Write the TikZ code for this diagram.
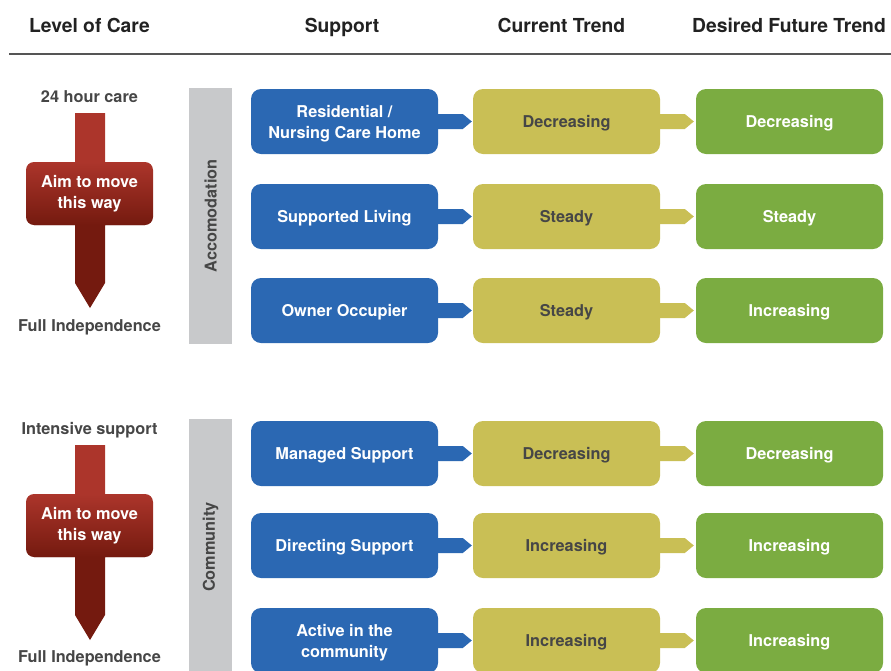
\documentclass[tikz,border=0pt]{standalone}
\usepackage{fontspec}
\setmainfont{TeX Gyre Heros}
\usetikzlibrary{calc}
\definecolor{cblue}{HTML}{2B68B3}
\definecolor{cyellow}{HTML}{C9BF55}
\definecolor{cgreen}{HTML}{7BAC41}
\definecolor{cbar}{HTML}{C8C9CB}
\definecolor{redtop}{HTML}{AC352B}
\definecolor{redbot}{HTML}{741A0F}
\definecolor{txtgray}{HTML}{464646}
\definecolor{hdrgray}{HTML}{222222}
\definecolor{rulegray}{HTML}{555555}
\tikzset{
  hdr/.style={anchor=base, text=hdrgray, font=\fontsize{19.3}{23}\selectfont\bfseries, inner sep=0pt},
  lvl/.style={text=txtgray, text depth=0pt, font=\fontsize{16.3}{20}\selectfont\bfseries, inner sep=0pt},
  barlabel/.style={text=txtgray, rotate=90, font=\fontsize{16.3}{20}\selectfont\bfseries, inner sep=0pt},
  tbox/.style={minimum width=187pt, minimum height=65pt, rounded corners=10pt, inner sep=0pt, align=center,
    text depth=0pt, font=\fontsize{16.3}{21}\selectfont\bfseries},
  sbox/.style={tbox, fill=cblue, text=white},
  cbox/.style={tbox, fill=cyellow, text=txtgray},
  fbox/.style={tbox, fill=cgreen, text=white},
  aimtext/.style={text=white, align=center, font=\fontsize{16.3}{21}\selectfont\bfseries, inner sep=0pt}
}
\newcommand\aimarrow[2]{%
  \path[path picture={%
    \fill[redtop] (0,#1-5) rectangle (200,#1+49);
    \shade[top color=redtop, bottom color=redbot] (0,#1+49) rectangle (200,#1+112);
    \fill[redbot] (0,#1+112) rectangle (200,#1+200);}]
    (75,#1) -- (105,#1) -- (105,#1+170) -- (90,#1+195) -- (75,#1+170) -- cycle;
  \path[rounded corners=8pt, path picture={%
    \fill[redtop] (0,#1-5) rectangle (200,#1+49);
    \shade[top color=redtop, bottom color=redbot] (0,#1+49) rectangle (200,#1+112);
    \fill[redbot] (0,#1+112) rectangle (200,#1+200);}]
    (26,#1+49) rectangle (153,#1+112);
  \node[aimtext] (#2) at (89.5,#1+81) {Aim to move\\this way};
}
\newcommand\trendrow[5]{%
  \node[sbox] (s#1) at (344.5,#2) {#3};
  \node[cbox] (c#1) at (566.5,#2) {#4};
  \node[fbox] (f#1) at (789.5,#2) {#5};
  \fill[cblue] ($(s#1.east)+(-4,-7.5)$) -- ($(c#1.west)+(-10,-7.5)$) -- ($(c#1.west)+(-1,0)$)
    -- ($(c#1.west)+(-10,7.5)$) -- ($(s#1.east)+(-4,7.5)$) -- cycle;
  \fill[cyellow] ($(c#1.east)+(-4,-7.5)$) -- ($(f#1.west)+(-11,-7.5)$) -- ($(f#1.west)+(-2,0)$)
    -- ($(f#1.west)+(-11,7.5)$) -- ($(c#1.east)+(-4,7.5)$) -- cycle;
}
\begin{document}
\begin{tikzpicture}[x=1pt,y=-1pt]
\useasboundingbox (0,0) rectangle (891,670);
% header
\node[hdr] (h1) at (89.5,32) {Level of Care};
\node[hdr] (h2) at (342,32) {Support};
\node[hdr] (h3) at (561.5,32) {Current Trend};
\node[hdr] (h4) at (789,32) {Desired Future Trend};
\draw[rulegray, line width=2.5pt] (9,54) -- (891,54);
% side bars
\fill[cbar] (189,88) rectangle (232,344);
\node[barlabel] (b1) at (210.5,216) {Accomodation};
\fill[cbar] (189,419) rectangle (232,676);
\node[barlabel] (b2) at (210.5,547) {Community};
% level of care column
\node[lvl] (l1) at (89.5,96.5) {24 hour care};
\aimarrow{113}{a1}
\node[lvl] (l2) at (89.5,326) {Full Independence};
\node[lvl] (l3) at (89.5,428) {Intensive support};
\aimarrow{445}{a2}
\node[lvl] (l4) at (89.5,657) {Full Independence};
% rows
\trendrow{1}{121.5}{Residential /\\Nursing Care Home}{Decreasing}{Decreasing}
\trendrow{2}{216.5}{Supported Living}{Steady}{Steady}
\trendrow{3}{310.5}{Owner Occupier}{Steady}{Increasing}
\trendrow{4}{453.5}{Managed Support}{Decreasing}{Decreasing}
\trendrow{5}{545.5}{Directing Support}{Increasing}{Increasing}
\trendrow{6}{640.5}{Active in the\\community}{Increasing}{Increasing}
\end{tikzpicture}
\end{document}
